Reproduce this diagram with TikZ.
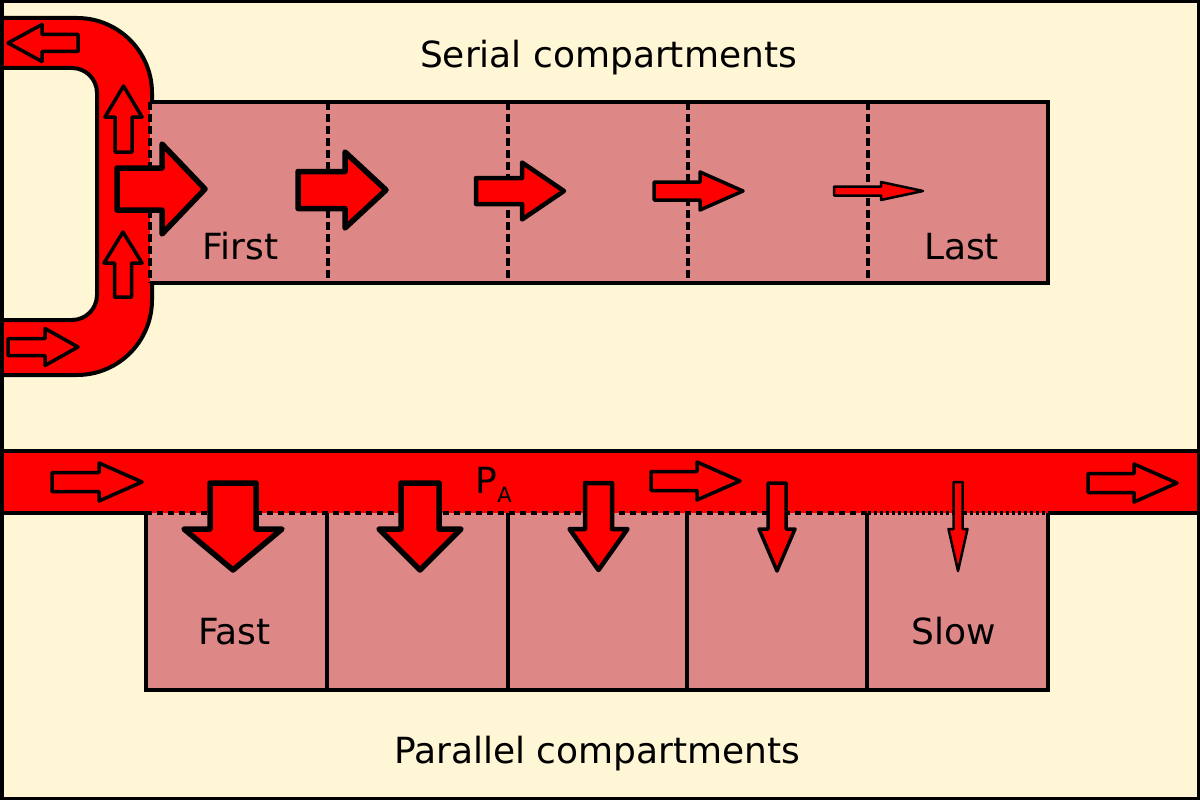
\documentclass[tikz,border=0pt]{standalone}
\usepackage{fontspec}
\setmainfont{DejaVu Sans}
\usetikzlibrary{calc}
\definecolor{cream}{RGB}{255,246,213}
\definecolor{tissue}{RGB}{222,135,135}
\definecolor{blood}{RGB}{255,0,0}
\tikzstyle{wall} = [draw=black,line width=4pt]
\tikzstyle{flow} = [fill=blood,draw=black,line width=3.5pt,line join=round]
\tikzstyle{lbl} = [inner sep=0pt,anchor=base,font=\fontsize{36}{40}\selectfont]
% tail x, tail y, angle, length, shaft half, head half, head length
\newcommand{\flowarrow}[8][]{%
  \draw[flow,#1,shift={(#2,#3)},rotate=#4] (0,-#6) -- ({#5-#8},-#6) -- ({#5-#8},-#7) -- (#5,0)
    -- ({#5-#8},#7) -- ({#5-#8},#6) -- (0,#6) -- cycle;}

\begin{document}
\begin{tikzpicture}[x=1pt,y=-1pt]
  \useasboundingbox (0,0) rectangle (1200,800);
  \fill[cream] (0,0) rectangle (1200,800);

  % loop of the pipe
  \fill[blood] (0,18) -- (77,18) arc[start angle=90,end angle=0,radius=75pt] -- (152,300)
    arc[start angle=0,end angle=-90,radius=75pt] -- (0,375) -- (0,320) -- (72,320)
    arc[start angle=-90,end angle=0,radius=25pt] -- (97,93)
    arc[start angle=0,end angle=90,radius=25pt] -- (0,68) -- cycle;
  \draw[wall] (0,18) -- (77,18) arc[start angle=90,end angle=0,radius=75pt] -- (152,102);
  \draw[wall] (152,283) -- (152,300) arc[start angle=0,end angle=-90,radius=75pt] -- (0,375);
  \draw[wall] (0,320) -- (72,320) arc[start angle=-90,end angle=0,radius=25pt] -- (97,93)
    arc[start angle=0,end angle=90,radius=25pt] -- (0,68);
  \flowarrow{78}{43}{180}{70}{8.5}{18.5}{34}
  \flowarrow{123.5}{152}{90}{66}{8.5}{18.5}{31}
  \flowarrow{123}{297}{90}{65}{8.5}{19}{31}
  \flowarrow{8}{347}{0}{70}{8.5}{18.5}{33}

  % serial row
  \fill[tissue] (150,102) rectangle (1048,283);
  \draw[wall,line width=3.5pt] (150,102) -- (1048,102) -- (1048,283) -- (150,283);
  \foreach \x in {150,328,508,688,868}
    \draw[wall,line width=3.5pt,dash pattern=on 8pt off 4pt] (\x,102) -- (\x,283);
  \flowarrow[line width=5.5pt]{117}{189}{0}{88}{21}{45}{43}
  \flowarrow[line width=5.5pt]{298}{190}{0}{88}{18.5}{38}{41}
  \flowarrow[line width=4.5pt]{476}{191}{0}{88}{13}{28.5}{42}
  \flowarrow[line width=3.5pt]{654}{191}{0}{89}{9}{19}{43}
  \flowarrow[line width=2.5pt]{834}{191}{0}{89}{4.5}{9}{42}
  \node[lbl] (serial) at (608.5,68) {Serial compartments};
  \node[lbl] (first) at (240.5,259) {First};
  \node[lbl] (last) at (961.5,259) {Last};

  % band and parallel row
  \fill[blood] (0,451) rectangle (1200,513);
  \draw[wall] (146,513) -- (0,513) -- (0,451) -- (1200,451) -- (1200,513) -- (1048,513);
  \fill[tissue] (146,513) rectangle (1048,690);
  \draw[wall,line width=3.5pt] (146,513) -- (146,690) -- (1048,690) -- (1048,513);
  \draw[wall,line width=3.5pt,dash pattern=on 6pt off 5pt] (146,513) -- (868,513);
  \draw[wall,line width=3.5pt,dash pattern=on 3pt off 3pt] (868,513) -- (1048,513);
  \foreach \x in {327,508,687,867}
    \draw[wall,line width=3.5pt] (\x,513) -- (\x,690);
  \flowarrow{52}{482}{0}{90}{9.5}{19}{43}
  \flowarrow{651}{481}{0}{89}{9.5}{19}{43}
  \flowarrow{1088}{483}{0}{89}{9.5}{19}{43}
  \flowarrow[line width=5.5pt]{233}{483}{-90}{87}{23}{49}{41}
  \flowarrow[line width=5.5pt]{420}{483}{-90}{87}{19}{41}{41}
  \flowarrow[line width=4.5pt]{598.5}{483}{-90}{87}{13.5}{29}{41}
  \flowarrow[line width=3.5pt]{777}{483}{-90}{88}{9}{18}{42}
  \flowarrow[line width=2.5pt]{958}{482}{-90}{89}{4.5}{9.5}{42}
  \node[lbl,anchor=base west] (pa) at (475.5,493) {P\raisebox{-9pt}{\fontsize{21}{21}\selectfont A}};
  \node[lbl] (fast) at (234.5,644) {Fast};
  \node[lbl] (slow) at (953.5,644) {Slow};
  \node[lbl] (parallel) at (597.5,763) {Parallel compartments};

  \draw[line width=3.5pt] (1.75,1.75) rectangle (1198.25,798.25);
\end{tikzpicture}
\end{document}
